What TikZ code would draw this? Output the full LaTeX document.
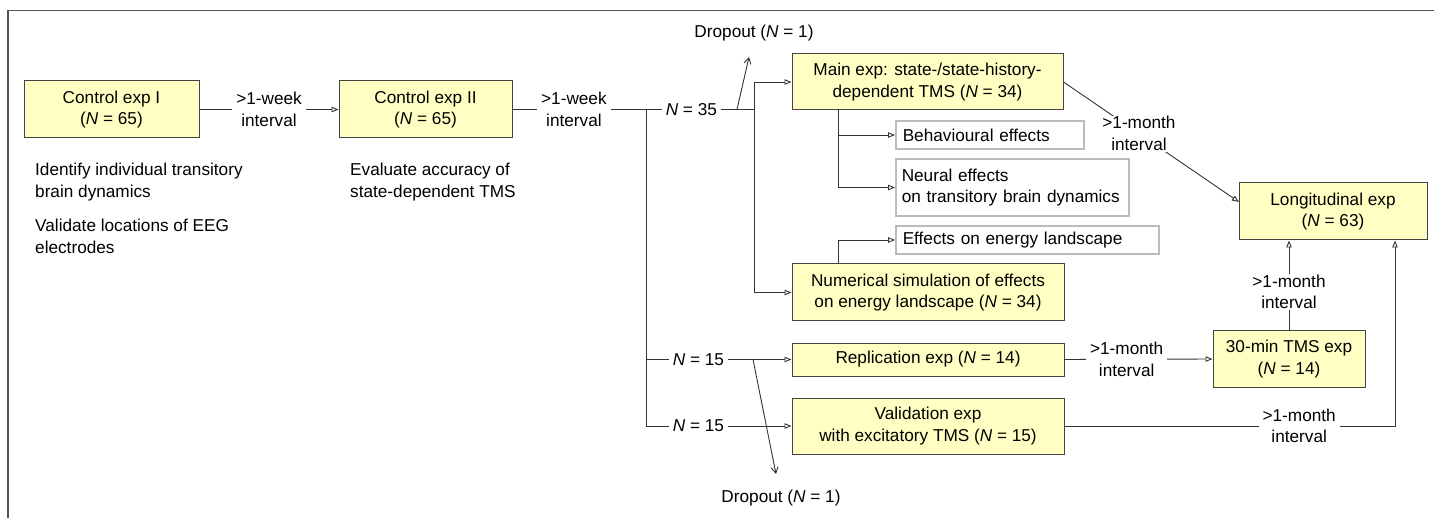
\documentclass[tikz,border=0pt]{standalone}
\usepackage{fontspec}
\setmainfont{Liberation Sans}
\usetikzlibrary{arrows.meta}
\definecolor{boxfill}{HTML}{FFFFC4}
\definecolor{boxedge}{HTML}{444444}
\definecolor{lineclr}{HTML}{333333}
\definecolor{grayedge}{HTML}{BBBBBB}
\definecolor{frameclr}{HTML}{555555}
\tikzset{
  txt/.style={font=\fontsize{17.2}{21.5}\selectfont},
  exbox/.style={txt, draw=boxedge, fill=boxfill, line width=1pt, align=center, inner sep=0pt},
  effbox/.style={txt, draw=grayedge, line width=1.5pt, align=left, inner xsep=7pt, inner ysep=0pt, anchor=west},
  conn/.style={draw=lineclr, line width=0.9pt},
  arr/.style={conn, -{Triangle[open, length=7pt, width=5.5pt]}},
  droparr/.style={conn, -{Straight Barb[length=6pt, width=7pt]}},
  lbl/.style={txt, fill=white, align=center, inner xsep=4pt, inner ysep=1pt},
  plain/.style={txt, align=left, inner sep=0pt, anchor=north west},
  framestyle/.style={draw=frameclr, line width=1.5pt}
}
\begin{document}
\begin{tikzpicture}[x=1pt, y=-1pt]
\useasboundingbox (0,0) rectangle (1434,518);
\draw[framestyle] (1434,10.5) -- (8,10.5) -- (8,518);

% boxes
\node[exbox, minimum width=175pt, minimum height=57pt] (c1) at (111.5,109.5) {Control exp I\\(\textit{N} = 65)};
\node[exbox, minimum width=173pt, minimum height=57pt] (c2) at (425.5,109.5) {Control exp II\\(\textit{N} = 65)};
\node[exbox, minimum width=271pt, minimum height=56pt] (main) at (927.5,82) {Main exp: state-/state-history-\\dependent TMS (\textit{N} = 34)};
\node[exbox, minimum width=272pt, minimum height=57pt] (num) at (928,292.5) {Numerical simulation of effects\\on energy landscape (\textit{N} = 34)};
\node[exbox, minimum width=272pt, minimum height=33pt] (rep) at (928,359.5) {Replication exp (\textit{N} = 14)};
\node[exbox, minimum width=272pt, minimum height=56pt] (val) at (928,426) {Validation exp\\with excitatory TMS (\textit{N} = 15)};
\node[exbox, minimum width=152pt, minimum height=56pt] (tms) at (1289,359) {30-min TMS exp\\(\textit{N} = 14)};
\node[exbox, minimum width=188pt, minimum height=57pt] (long) at (1333,211.5) {Longitudinal exp\\(\textit{N} = 63)};

\node[effbox, text width=174pt, minimum height=28pt] (beh) at (895,135) {Behavioural effects};
\node[effbox, inner xsep=6pt, text width=221pt, minimum height=57pt] (neu) at (895,187.5) {Neural effects\\on transitory brain dynamics};
\node[effbox, text width=249pt, minimum height=28pt] (eff) at (895,240) {Effects on energy landscape};

% plain texts
\node[plain] (t1) at (35,163) {Identify individual transitory\\brain dynamics};
\node[plain] (t2) at (35,219) {Validate locations of EEG\\electrodes};
\node[plain] (t3) at (350,163) {Evaluate accuracy of\\state-dependent TMS};
\node[txt] (drop1) at (754,33) {Dropout (\textit{N} = 1)};
\node[txt] (drop2) at (781,498) {Dropout (\textit{N} = 1)};

% junction coordinates
\coordinate (j1) at (646,109.5);
\coordinate (j1b) at (646,426);
\coordinate (j1r) at (646,359.5);
\coordinate (j2) at (754,109.5);
\coordinate (j2t) at (754,82);
\coordinate (j2b) at (754,292.5);
\coordinate (m1) at (838,110);
\coordinate (m2) at (838,135);
\coordinate (m3) at (838,187.5);
\coordinate (n1) at (838,264);
\coordinate (n2) at (838,240);
\coordinate (d1s) at (737,109.5);
\coordinate (d1e) at (749,57);
\coordinate (d2s) at (753,359.5);
\coordinate (d2e) at (776,474);
\coordinate (vcorner) at (1395,426);
\coordinate (ltarget) at (1239,202);

% connectors
\draw[arr] (c1) -- node[lbl] (w1) {>1-week\\interval} (c2);
\draw[conn] (c2.east) -- node[lbl, pos=0.46] (w2) {>1-week\\interval} (j1);
\draw[conn] (j1) -- node[lbl, pos=0.42] (n35) {\textit{N} = 35} (j2);
\draw[conn] (j1) -- (j1b);
\draw[conn] (j2t) -- (j2b);
\draw[arr] (j2t) -- (main.west);
\draw[arr] (j2b) -- (num.west);
\draw[droparr] (d1s) -- (d1e);

\draw[conn] (m1) -- (m3);
\draw[arr] (m2) -- (beh.west);
\draw[arr] (m3) -- (neu.west);
\draw[conn] (n1) -- (n2);
\draw[arr] (n2) -- (eff.west);

\draw[arr] (j1r) -- node[lbl, pos=0.36] (n15a) {\textit{N} = 15} (rep.west);
\draw[arr] (j1b) -- node[lbl, pos=0.36] (n15b) {\textit{N} = 15} (val.west);
\draw[droparr] (d2s) -- (d2e);

\draw[arr] (rep.east) -- node[lbl, pos=0.42] (m1l) {>1-month\\interval} (tms.west);
\draw[arr] (tms.north) -- node[lbl, pos=0.43] (m2l) {>1-month\\interval} (tms.north |- long.south);
\draw[arr] (val.east) -- node[lbl, pos=0.71] (m3l) {>1-month\\interval} (vcorner) -- (vcorner |- long.south);
\draw[arr] (main.east) -- node[lbl, pos=0.43] (m4l) {>1-month\\interval} (ltarget);
\end{tikzpicture}
\end{document}
